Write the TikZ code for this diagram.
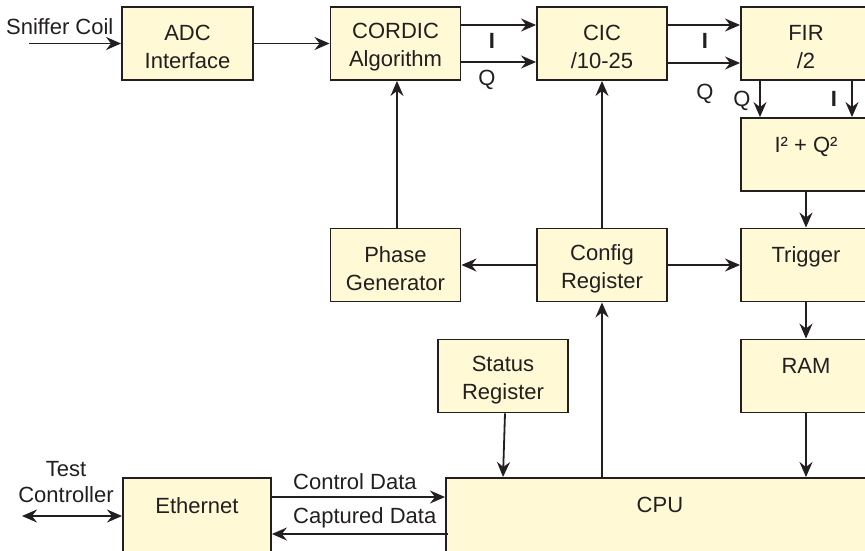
\documentclass[tikz,border=0pt]{standalone}
\usepackage{fontspec}
\setmainfont{Liberation Sans}
\usetikzlibrary{arrows.meta}
\definecolor{ink}{RGB}{35,31,32}
\definecolor{boxfill}{RGB}{255,249,214}
% strut that lowers the first text line inside a block
\newcommand\firstline{\rule{0pt}{23pt}}
\tikzset{
  blk/.style={draw=ink, fill=boxfill, line width=1.9pt, minimum width=130pt,
    minimum height=73pt, inner sep=0pt, align=center,
    font=\fontsize{22}{28}\selectfont, text=ink},
  lbl/.style={font=\fontsize{22}{26}\selectfont, text=ink, inner sep=0pt},
  conn/.style={draw=ink, line width=1.8pt,
    -{Stealth[length=15pt,width=13pt,inset=5pt]}},
  biconn/.style={draw=ink, line width=1.8pt,
    {Stealth[length=15pt,width=13pt,inset=5pt]}-{Stealth[length=15pt,width=13pt,inset=5pt]}},
  toplabel/.style={label={[lbl, anchor=north, yshift=-20pt]north:#1}},
}
\begin{document}
\begin{tikzpicture}[x=1pt,y=-1pt]
\useasboundingbox (0,0) rectangle (865,550);
\clip (0,0) rectangle (865,550);

% signal chain
\node[blk, minimum width=131pt] (adc) at (187.5,43.5) {\firstline ADC\\Interface};
\node[blk] (cordic) at (395.5,43.5) {\firstline CORDIC\\Algorithm};
\node[blk] (cic) at (602,43.5) {\firstline CIC\\/10-25};
\node[blk] (fir) at (806,43.5) {\firstline FIR\\/2};
\node[blk] (sq) at (806,154.5) {\firstline I² + Q²\\\mbox{}};
\node[blk] (trig) at (806,265) {\firstline Trigger\\\mbox{}};
\node[blk] (ram) at (806,376) {\firstline RAM\\\mbox{}};

% control blocks
\node[blk] (phase) at (395.5,265) {\firstline Phase\\Generator};
\node[blk] (cfg) at (602,265) {\firstline Config\\Register};
\node[blk] (status) at (503,376) {\firstline Status\\Register};
\node[blk, anchor=north west, minimum width=428pt, minimum height=150pt,
  toplabel=CPU] (cpu) at (445,477) {};
\node[blk, anchor=north west, minimum width=148pt, minimum height=150pt,
  toplabel=Ethernet] (eth) at (122,477) {};

% external ends
\coordinate (coil) at (29,43.5);
\coordinate (tc) at (22,516);

% labels
\node[lbl, anchor=base west] (coillbl) at (6,34) {Sniffer Coil};
\node[lbl, anchor=base] (i1) at (492,48) {\bfseries I};
\node[lbl, anchor=base] (q1) at (487,85) {Q};
\node[lbl, anchor=base] (i2) at (705,48) {\bfseries I};
\node[lbl, anchor=base] (q2) at (705,99) {Q};
\node[lbl, anchor=base] (q3) at (742,106) {Q};
\node[lbl, anchor=base] (i3) at (834,106) {\bfseries I};
\node[lbl, anchor=base west] (ctl) at (293,489) {Control Data};
\node[lbl, anchor=base west] (cap) at (293,523) {Captured Data};
\node[lbl, anchor=north, align=center] (tclbl) at (66,461) {Test\\Controller};

% connectors
\draw[conn] (coil) -- (adc.west);
\draw[conn] (adc.east) -- (cordic.west);
\draw[conn] ([yshift=18.5pt]cordic.east) -- ([yshift=18.5pt]cic.west);
\draw[conn] ([yshift=-18.5pt]cordic.east) -- ([yshift=-18.5pt]cic.west);
\draw[conn] ([yshift=18.5pt]cic.east) -- ([yshift=18.5pt]fir.west);
\draw[conn] ([yshift=-19.5pt]cic.east) -- ([yshift=-19.5pt]fir.west);
\draw[conn] ([xshift=-46pt]fir.south) -- ([xshift=-46pt]sq.north);
\draw[conn] ([xshift=46pt]fir.south) -- ([xshift=46pt]sq.north);
\draw[conn] (sq.south) -- (trig.north);
\draw[conn] (trig.south) -- (ram.north);
\draw[conn] (ram.south) -- (ram.south |- cpu.north);
\draw[conn] ([xshift=2pt]status.south) -- (status.south |- cpu.north);
\draw[conn] (cfg.south |- cpu.north) -- (cfg.south);
\draw[conn] (cfg.north) -- (cic.south);
\draw[conn] (cfg.west) -- (phase.east);
\draw[conn] (cfg.east) -- (trig.west);
\draw[conn] ([xshift=1.5pt]phase.north) -- ([xshift=1.5pt]cordic.south);
\draw[conn] ([yshift=-20pt]eth.north east) -- ([yshift=-20pt]cpu.north west);
\draw[conn] ([yshift=-57pt,xshift=3pt]cpu.north west) -- ([yshift=-57pt]eth.north east);
\draw[biconn] (tc) -- ([yshift=-39pt]eth.north west);
\end{tikzpicture}
\end{document}
